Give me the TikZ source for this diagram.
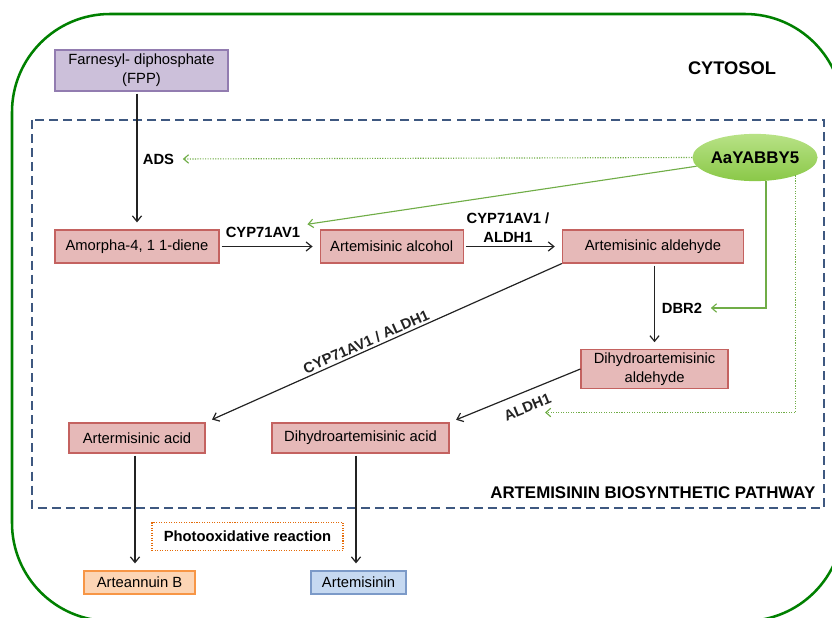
\documentclass[tikz,border=0pt]{standalone}
\usepackage{fontspec}
\setmainfont{Liberation Sans}
\usepackage{tikz}
\usetikzlibrary{shapes.geometric, arrows.meta, positioning}
\definecolor{cytogreen}{RGB}{0,128,0}
\definecolor{frameblue}{RGB}{62,88,128}
\definecolor{regreen}{RGB}{112,173,71}
\definecolor{yabbytop}{RGB}{184,226,134}
\definecolor{yabbybottom}{RGB}{138,200,72}
\definecolor{steppink}{RGB}{230,185,184}
\definecolor{stepred}{RGB}{196,98,96}
\definecolor{fpplight}{RGB}{204,192,218}
\definecolor{fppborder}{RGB}{146,124,176}
\definecolor{orangelight}{RGB}{252,213,181}
\definecolor{orangeborder}{RGB}{247,150,70}
\definecolor{bluelight}{RGB}{198,217,241}
\definecolor{blueborder}{RGB}{124,154,200}
\definecolor{photoborder}{RGB}{228,108,10}
\definecolor{arrowgray}{RGB}{35,35,35}
\tikzset{
  box/.style={rectangle, draw, line width=0.8pt, inner sep=2pt, align=center,
    font=\fontsize{10.5}{13.5}\selectfont},
  stepbox/.style={box, fill=steppink, draw=stepred},
  fppbox/.style={box, fill=fpplight, draw=fppborder},
  sidebox/.style={box, fill=orangelight, draw=orangeborder},
  finalbox/.style={box, fill=bluelight, draw=blueborder},
  enzyme/.style={inner sep=1pt, align=center,
    font=\bfseries\fontsize{10.5}{13.5}\selectfont},
  title/.style={inner sep=1pt, font=\bfseries\fontsize{12}{14}\selectfont},
  arrow/.style={-{Straight Barb[length=4pt, width=6.5pt]}, line width=0.85pt,
    color=arrowgray, shorten <=1.5pt, shorten >=5pt},
  regarrow/.style={-{Straight Barb[length=3.5pt, width=6pt]}, line width=0.8pt,
    color=regreen},
  regdotted/.style={regarrow, densely dotted},
}
\begin{document}
\begin{tikzpicture}[x=0.025cm, y=-0.025cm]
  \useasboundingbox (0,0) rectangle (832,617);
  \clip (0,0) rectangle (832,617);
  \draw[cytogreen, line width=1.8pt, rounded corners=2.45cm] (12,14) rectangle (843,621);
  \draw[frameblue, line width=1.1pt, dash pattern=on 6.4pt off 3.6pt] (32,120) rectangle (824,508);
  \node[title, font=\bfseries\fontsize{13}{15}\selectfont] (cytosol) at (732,68) {CYTOSOL};
  \node[title, anchor=east] (pathway) at (817,493) {ARTEMISININ BIOSYNTHETIC PATHWAY};

  \node[fppbox, minimum width=4.325cm, minimum height=1.025cm]
    (fpp) at (141.5,70.5) {Farnesyl- diphosphate\\(FPP)};
  \node[stepbox, minimum width=4.1cm, minimum height=0.825cm]
    (amorpha) at (137,246.5) {Amorpha-4, 1 1-diene};
  \node[stepbox, right=2.5cm of amorpha, minimum width=3.575cm, minimum height=0.825cm]
    (alcohol) {Artemisinic alcohol};
  \node[stepbox, right=2.45cm of alcohol, minimum width=4.525cm, minimum height=0.825cm]
    (aldehyde) {Artemisinic aldehyde};
  \node[stepbox, minimum width=3.675cm, minimum height=0.95cm]
    (dhaldehyde) at (654.5,369) {Dihydroartemisinic\\aldehyde};
  \node[stepbox, minimum width=4.425cm, minimum height=0.75cm]
    (dhacid) at (360.5,438) {Dihydroartemisinic acid};
  \node[stepbox, minimum width=3.4cm, minimum height=0.75cm]
    (acid) at (137,438) {Artermisinic acid};
  \node[sidebox, minimum width=2.775cm, minimum height=0.575cm]
    (arteannuin) at (139.5,582.5) {Arteannuin B};
  \node[finalbox, minimum width=2.375cm, minimum height=0.575cm]
    (artemisinin) at (358.5,582.5) {Artemisinin};
  \node[box, draw=photoborder, densely dotted, minimum width=4.775cm, minimum height=0.7cm,
        font=\bfseries\fontsize{10.5}{13.5}\selectfont]
    (photo) at (247.5,536.5) {Photooxidative reaction};

  \node[ellipse, draw=none, top color=yabbytop, bottom color=yabbybottom,
        minimum width=2.85cm, minimum height=1.18cm, inner sep=0pt,
        font=\bfseries\fontsize{12}{14}\selectfont]
    (yabby) at (755,157.5) {AaYABBY5};

  \node[enzyme] (ads) at (158.5,159) {ADS};
  \node[enzyme] (cyp) at (263,232) {CYP71AV1};
  \node[enzyme] (cypaldh) at (508,228) {CYP71AV1 /\\ALDH1};
  \node[enzyme] (dbr) at (682,308) {DBR2};
  \coordinate (dbrturn) at (766,308);
  \coordinate (aldhturn) at (795.5,412.5);
  \coordinate (aldhtip) at (545,412.5);

  \draw[arrow] (fpp.south -| amorpha) -- (amorpha.north);
  \draw[arrow] (amorpha) -- (alcohol);
  \draw[arrow] (alcohol) -- (aldehyde);
  \draw[arrow] (aldehyde.south -| dhaldehyde) -- (dhaldehyde.north);
  \draw[arrow, shorten <=0pt] (aldehyde.south west) -- (acid.north east)
    node[enzyme, sloped, above=0.5pt, pos=0.54] (cypaldhdiag) {CYP71AV1 / ALDH1};
  \draw[arrow, shorten <=0pt] (dhaldehyde.west) -- (dhacid.north east)
    node[enzyme, sloped, below=6pt, pos=0.45] (aldh) {ALDH1};
  \draw[arrow] (acid.south -| 135,0) -- (arteannuin.north -| 135,0);
  \draw[arrow] (dhacid.south -| 356,0) -- (artemisinin.north -| 356,0);

  \draw[regdotted, shorten >=5pt] (yabby.west) -- (ads.east);
  \draw[regarrow, shorten >=4pt] (yabby) -- (cyp.north east);
  \draw[regarrow, shorten >=5pt] (yabby.south -| dbrturn) -- (dbrturn) -- (dbr.east);
  \draw[regdotted] (yabby.south -| aldhturn) ++(0,-6) -- (aldhturn) -- (aldhtip);
\end{tikzpicture}
\end{document}
